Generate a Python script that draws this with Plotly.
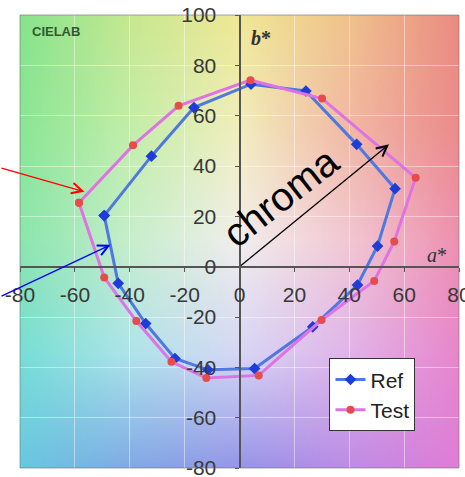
import base64
import struct
import zlib

import numpy as np
import plotly.graph_objects as go

# --- chart data -------------------------------------------------------------
ref_a = [-49.3, -32.1, -16.6, 4.2, 24.2, 42.7, 56.7, 50.3, 43.0, 26.7, 5.5, -11.5, -23.5, -34.2, -44.2]
ref_b = [20.3, 43.9, 63.2, 72.5, 69.8, 48.6, 31.0, 8.2, -7.3, -23.9, -40.5, -41.0, -36.5, -22.6, -6.6]

test_a = [-58.5, -38.8, -22.2, 4.0, 30.1, 64.2, 56.4, 49.1, 29.9, 7.0, -12.1, -24.8, -37.6, -49.3]
test_b = [25.4, 48.2, 63.9, 74.1, 66.8, 35.3, 10.0, -5.7, -21.2, -43.2, -44.2, -37.8, -21.6, -4.3]

a_ticks = [-80, -60, -40, -20, 0, 20, 40, 60, 80]
b_ticks = [-80, -60, -40, -20, 0, 20, 40, 60, 80, 100]

A_RANGE = [-80, 80]
B_RANGE = [-80, 100]

# --- a*b* colour-plane backdrop ----------------------------------------------
# anchor colours on a 5x5 grid (rows: b* from top to bottom; cols: a* left to right)
anchor_cols = np.array([-80.0, -40.0, 0.0, 40.0, 80.0])
anchor_rows = np.array([100.0, 55.0, 10.0, -35.0, -80.0])
anchor_rgb = np.array([
    [[135, 228, 140], [200, 232, 145], [240, 232, 150], [240, 195, 140], [235, 140, 130]],
    [[140, 230, 150], [195, 238, 170], [242, 238, 190], [242, 185, 165], [236, 140, 140]],
    [[140, 230, 175], [200, 238, 205], [242, 238, 238], [242, 200, 212], [238, 145, 178]],
    [[120, 222, 215], [175, 228, 235], [215, 215, 245], [225, 180, 235], [232, 135, 205]],
    [[105, 200, 225], [130, 170, 230], [150, 150, 232], [190, 140, 230], [225, 125, 215]],
], dtype=float)


def backdrop_pixels(w, h):
    a = np.linspace(A_RANGE[0], A_RANGE[1], w)
    b = np.linspace(B_RANGE[1], B_RANGE[0], h)
    n = len(anchor_rows)
    # interpolate along a* for each anchor row, then along b*
    rows = np.empty((n, w, 3))
    for r in range(n):
        for c in range(3):
            rows[r, :, c] = np.interp(a, anchor_cols, anchor_rgb[r, :, c])
    img = np.empty((h, w, 3))
    for c in range(3):
        for x in range(w):
            img[:, x, c] = np.interp(b, anchor_rows[::-1], rows[::-1, x, c])
    return np.clip(img, 0, 255).astype(np.uint8)


def png_uri(rgb):
    h, w, _ = rgb.shape
    raw = b"".join(b"\x00" + rgb[r].tobytes() for r in range(h))

    def chunk(tag, data):
        body = tag + data
        return struct.pack(">I", len(data)) + body + struct.pack(">I", zlib.crc32(body) & 0xFFFFFFFF)

    png = (b"\x89PNG\r\n\x1a\n"
           + chunk(b"IHDR", struct.pack(">IIBBBBB", w, h, 8, 2, 0, 0, 0))
           + chunk(b"IDAT", zlib.compress(raw, 9))
           + chunk(b"IEND", b""))
    return "data:image/png;base64," + base64.b64encode(png).decode()


backdrop = png_uri(backdrop_pixels(160, 180))

# --- figure -------------------------------------------------------------------
fig = go.Figure()

fig.add_trace(go.Scatter(
    x=ref_a + ref_a[:1], y=ref_b + ref_b[:1], name="Ref",
    mode="lines+markers",
    line=dict(color="rgb(80,120,225)", width=3),
    marker=dict(symbol="diamond", size=9, color="rgb(30,60,215)"),
))
fig.add_trace(go.Scatter(
    x=test_a + test_a[:1], y=test_b + test_b[:1], name="Test",
    mode="lines+markers",
    line=dict(color="rgb(222,115,228)", width=3),
    marker=dict(symbol="circle", size=8, color="rgb(232,75,75)"),
))

tick_font = dict(family="Liberation Sans, Arial", size=21, color="#383838")

fig.update_layout(
    width=465, height=477,
    margin=dict(l=20, r=6, t=15, b=9),
    paper_bgcolor="white",
    plot_bgcolor="rgba(0,0,0,0)",
    showlegend=True,
    legend=dict(
        x=0.705, y=0.242, xanchor="left", yanchor="top",
        bgcolor="white", bordercolor="#333333", borderwidth=1,
        font=dict(family="Liberation Sans, Arial", size=21, color="#222222"),
        itemwidth=30, tracegroupgap=0,
    ),
    xaxis=dict(
        range=A_RANGE, anchor="free", position=(0 - B_RANGE[0]) / (B_RANGE[1] - B_RANGE[0]),
        tickvals=a_ticks, ticktext=[str(v) for v in a_ticks],
        ticks="outside", ticklen=4, tickcolor="#555555",
        showline=True, linecolor="#555555", linewidth=2,
        showgrid=True, gridcolor="rgba(255,255,255,0.45)", gridwidth=1,
        zeroline=False, tickfont=tick_font, automargin=False,
        ticklabeloverflow="allow", ticklabelstandoff=5,
        scaleanchor=False,
    ),
    yaxis=dict(
        range=B_RANGE, anchor="free", position=(0 - A_RANGE[0]) / (A_RANGE[1] - A_RANGE[0]),
        tickvals=b_ticks, ticktext=[str(v) for v in b_ticks],
        ticks="outside", ticklen=4, tickcolor="#555555",
        showline=True, linecolor="#555555", linewidth=2,
        showgrid=True, gridcolor="rgba(255,255,255,0.45)", gridwidth=1,
        zeroline=False, tickfont=tick_font, automargin=False,
        ticklabeloverflow="allow", ticklabelstandoff=14,
    ),
    images=[dict(
        source=backdrop, xref="x", yref="y",
        x=A_RANGE[0], y=B_RANGE[1],
        sizex=A_RANGE[1] - A_RANGE[0], sizey=B_RANGE[1] - B_RANGE[0],
        sizing="stretch", layer="below",
    )],
    shapes=[dict(
        type="rect", xref="paper", yref="paper", x0=0, y0=0, x1=1, y1=1,
        line=dict(color="rgba(110,110,110,0.6)", width=1), layer="above",
    )],
)

# labels and arrows
fig.add_annotation(
    x=54.5, y=48.6, ax=0, ay=0, axref="x", ayref="y", xref="x", yref="y",
    text="", showarrow=True, arrowhead=5, arrowsize=1.6, arrowwidth=1.3, arrowcolor="black",
)
fig.add_annotation(
    x=15.0, y=27.5, xref="x", yref="y", text="chroma", showarrow=False, textangle=-38,
    font=dict(family="Liberation Sans, Arial", size=40, color="black"),
)
fig.add_annotation(
    x=-56.5, y=29.8, xref="x", yref="y", ax=-85, ay=-24,
    text="", showarrow=True, arrowhead=5, arrowsize=1.6, arrowwidth=1.3, arrowcolor="red",
)
fig.add_annotation(
    x=-47.0, y=8.7, xref="x", yref="y", ax=-111, ay=52,
    text="", showarrow=True, arrowhead=5, arrowsize=1.6, arrowwidth=1.3, arrowcolor="blue",
)
fig.add_annotation(
    x=0.082, y=0.9625, xref="paper", yref="paper", xanchor="center", yanchor="middle",
    text="<b>CIELAB</b>", showarrow=False,
    font=dict(family="Liberation Sans Narrow, Liberation Sans, Arial", size=13, color="#2f5a2f"),
)
fig.add_annotation(
    x=8.0, y=91, xref="x", yref="y", text="<b><i>b</i>*</b>", showarrow=False,
    font=dict(family="Liberation Serif, Times New Roman", size=20, color="#333333"),
)
fig.add_annotation(
    x=71.8, y=4.8, xref="x", yref="y", text="<i>a</i>*", showarrow=False,
    font=dict(family="Liberation Serif, Times New Roman", size=20, color="#333333"),
)

fig.write_html("out.html")
